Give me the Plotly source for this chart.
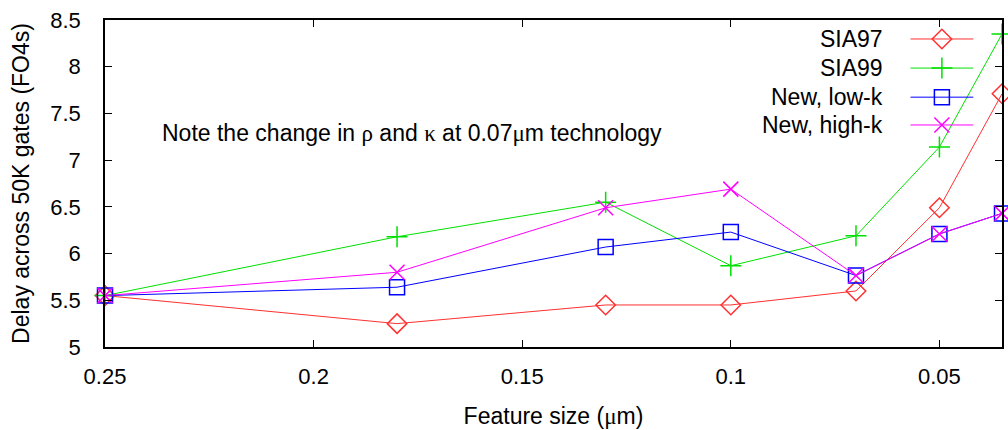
import plotly.graph_objects as go

# ---- data ----
feature_size = [0.25, 0.18, 0.13, 0.10, 0.07, 0.05, 0.035]
sia97 = [5.55, 5.25, 5.45, 5.45, 5.60, 6.49, 7.71]
sia99 = [5.55, 6.18, 6.55, 5.87, 6.19, 7.14, 8.35]
new_low_k = [5.55, 5.64, 6.07, 6.23, 5.765, 6.21, 6.43]
new_high_k = [5.55, 5.80, 6.49, 6.69, 5.765, 6.21, 6.43]

series_names = ["SIA97", "SIA99", "New, low-k", "New, high-k"]
x_ticks = [0.25, 0.2, 0.15, 0.1, 0.05]
x_tick_text = ["0.25", "0.2", "0.15", "0.1", "0.05"]
y_ticks = [5, 5.5, 6, 6.5, 7, 7.5, 8, 8.5]
y_tick_text = ["5", "5.5", "6", "6.5", "7", "7.5", "8", "8.5"]

FONT = "Liberation Sans, Arial, sans-serif"
SERIF = "<span style='font-family:Liberation Serif, serif'>{}</span>"
styles = [
    dict(color="#ff3030", symbol="diamond-open", size=15),
    dict(color="#00e000", symbol="cross-thin-open", size=15),
    dict(color="#0000ff", symbol="square-open", size=15),
    dict(color="#ff00ff", symbol="x-thin-open", size=15),
]
values = [sia97, sia99, new_low_k, new_high_k]

fig = go.Figure()
for name, vals, st in zip(series_names, values, styles):
    fig.add_trace(go.Scatter(
        x=feature_size, y=vals, mode="lines+markers", name=name,
        line=dict(color=st["color"], width=1),
        marker=dict(symbol=st["symbol"], size=st["size"], color=st["color"],
                    line=dict(color=st["color"], width=1.5)),
        showlegend=False, cliponaxis=False,
    ))

# custom legend (text on left, sample on right, like gnuplot)
legend_rows = [0.942, 0.853, 0.764, 0.679]
for name, st, ry in zip(series_names, styles, legend_rows):
    fig.add_trace(go.Scatter(
        x=[0.898, 0.933, 0.968], y=[ry, ry, ry], mode="lines",
        line=dict(color=st["color"], width=1),
        xaxis="x2", yaxis="y2", showlegend=False, hoverinfo="skip",
    ))
    fig.add_trace(go.Scatter(
        x=[0.933], y=[ry], mode="markers",
        marker=dict(symbol=st["symbol"], size=st["size"], color=st["color"],
                    line=dict(color=st["color"], width=1.5)),
        xaxis="x2", yaxis="y2", showlegend=False, hoverinfo="skip",
    ))
    fig.add_annotation(
        x=0.870, y=ry, xref="x2", yref="y2", text=name, showarrow=False,
        xanchor="right", yanchor="middle", font=dict(family=FONT, size=23, color="black"),
    )

fig.add_annotation(
    x=0.0612, y=0.655, xref="paper", yref="paper",
    text="Note the change in " + SERIF.format("ρ") + " and " + SERIF.format("κ")
         + " at 0.07" + SERIF.format("μ") + "m technology",
    showarrow=False, xanchor="left", yanchor="middle",
    font=dict(family=FONT, size=23, color="black"),
)

axis_common = dict(
    showline=True, linecolor="black", linewidth=1.5, mirror="ticks",
    ticks="inside", ticklen=7, tickcolor="black", showgrid=False, zeroline=False,
    tickfont=dict(family=FONT, size=22, color="black"),
)

fig.update_layout(
    width=1008, height=430,
    margin=dict(l=105, r=4, t=20, b=83),
    plot_bgcolor="white", paper_bgcolor="white",
    xaxis=dict(
        range=[0.25, 0.035], tickvals=x_ticks, ticktext=x_tick_text,
        ticklabelstandoff=9,
        title=dict(text="Feature size (" + SERIF.format("μ") + "m)",
                   font=dict(family=FONT, size=23, color="black"), standoff=20),
        **axis_common,
    ),
    yaxis=dict(
        range=[5, 8.5], tickvals=y_ticks, ticktext=y_tick_text,
        ticklabelstandoff=18,
        title=dict(text="Delay across 50K gates (FO4s)",
                   font=dict(family=FONT, size=23, color="black"), standoff=14),
        **axis_common,
    ),
    xaxis2=dict(range=[0, 1], overlaying="x", visible=False, fixedrange=True),
    yaxis2=dict(range=[0, 1], overlaying="y", visible=False, fixedrange=True),
)

fig.write_html("out.html")
